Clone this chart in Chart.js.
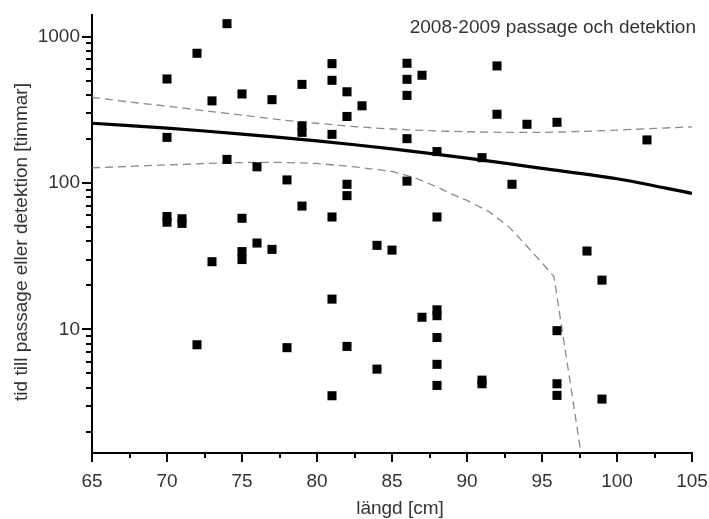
<!DOCTYPE html>
<html>
<head>
<meta charset="utf-8">
<script src="https://cdn.jsdelivr.net/npm/chart.js@4/dist/chart.umd.min.js"></script>
<style>
  html, body { margin: 0; padding: 0; background: #fff; }
  #wrap { width: 709px; height: 519px; }
</style>
</head>
<body>
<div id="wrap"><canvas id="c" width="709" height="519"></canvas></div>
<script>
// Fish length (cm) and time until passage or detection (hours), 2008-2009
const fishLength = [
  70, 70, 70, 70,
  71, 71,
  72, 72,
  73, 73,
  74, 74,
  75, 75, 75, 75,
  76, 76,
  77, 77,
  78, 78,
  79, 79, 79, 79,
  81, 81, 81, 81, 81, 81,
  82, 82, 82, 82, 82,
  83,
  84, 84,
  85,
  86, 86, 86, 86, 86,
  87, 87,
  88, 88, 88, 88, 88, 88, 88,
  91, 91, 91,
  92, 92,
  93,
  94,
  96, 96, 96, 96,
  98,
  99, 99,
  102
];
const hoursToEvent = [
  514, 205, 59, 54,
  57, 53,
  770, 7.85,
  364, 29,
  1227, 145,
  406, 57.4, 34, 30,
  129, 38.9,
  371, 35.2,
  105, 7.5,
  472, 246, 222, 69.6,
  654, 503, 215, 58.6, 16.1, 3.52,
  420, 285, 98, 82, 7.65,
  337,
  37.5, 5.35,
  34.8,
  658, 511, 397, 201, 103,
  545, 12.1,
  164, 58.6, 13.6, 12.4, 8.8, 5.77, 4.14,
  149, 4.5, 4.25,
  631, 295,
  98,
  252,
  260, 9.8, 4.25, 3.54,
  34.3,
  21.7, 3.34,
  197
];

// Fitted curve
const fitX = [65, 70, 75, 80, 85, 90, 95, 100, 105];
const fitY = [256, 237, 216, 194, 171, 148, 126, 107, 85];

// Upper confidence band
const upperX = [65, 67.5, 70, 72.5, 75, 77.5, 80, 82.5, 85, 87.5, 90, 92.5, 95, 97.5, 100, 102.5, 105];
const upperY = [385, 358, 335, 312, 291, 271, 256, 243, 234, 228, 224, 222, 222, 225, 230, 236, 242];

// Lower confidence band
const lowerX = [65, 67.5, 70, 72.5, 75, 77.5, 80, 82.5, 85, 86.5, 88, 89, 90, 91.5, 92.9, 94.1, 95, 95.8, 98];
const lowerY = [127, 130, 133, 136, 138, 138.5, 136, 129, 120, 109, 94, 84, 76, 63.5, 49, 36, 28.5, 22.9, 0.77];

// Axis ticks
const xTickValues = [65, 70, 75, 80, 85, 90, 95, 100, 105];
const yTickValues = [10, 100, 1000];

const chartTitle = '2008-2009 passage och detektion';
const xTitle = 'längd [cm]';
const yTitle = 'tid till passage eller detektion [timmar]';

const FONT = 'Liberation Sans, Arial, Helvetica, sans-serif';
const FONT_SIZE = 19;
const TEXT = '#333';

const zip = (xs, ys) => xs.map((x, i) => ({ x, y: ys[i] }));

// Tick marks (major and minor) plus free-standing texts
const decorations = {
  id: 'decorations',
  afterDraw(chart) {
    const { ctx, chartArea, scales } = chart;
    const xs = scales.x, ys = scales.y;
    ctx.save();
    ctx.strokeStyle = '#000';
    ctx.lineWidth = 2;
    ctx.lineCap = 'butt';
    // y ticks: 1..9 per decade
    for (let e = 0; e <= 3; e++) {
      for (let m = 1; m <= 9; m++) {
        const v = m * Math.pow(10, e);
        if (v < ys.min || v > ys.max) continue;
        const py = Math.round(ys.getPixelForValue(v));
        const len = m === 1 ? 10 : 6;
        ctx.beginPath();
        ctx.moveTo(chartArea.left - len, py);
        ctx.lineTo(chartArea.left, py);
        ctx.stroke();
      }
    }
    // x ticks every 2.5
    for (let v = xs.min; v <= xs.max + 1e-6; v += 2.5) {
      const px = Math.round(xs.getPixelForValue(v));
      const len = (v % 5 === 0) ? 9 : 5;
      ctx.beginPath();
      ctx.moveTo(px, chartArea.bottom);
      ctx.lineTo(px, chartArea.bottom + len);
      ctx.stroke();
    }
    // texts
    ctx.fillStyle = TEXT;
    ctx.font = FONT_SIZE + 'px ' + FONT;
    ctx.textAlign = 'right';
    ctx.textBaseline = 'alphabetic';
    ctx.fillText(chartTitle, 696, 33);
    ctx.textAlign = 'center';
    ctx.fillText(xTitle, 400, 514);
    ctx.translate(27, 242);
    ctx.rotate(-Math.PI / 2);
    ctx.fillText(yTitle, 0, 0);
    ctx.restore();
  }
};

new Chart(document.getElementById('c'), {
  type: 'scatter',
  data: {
    datasets: [
      {
        label: 'obs',
        data: zip(fishLength, hoursToEvent),
        pointStyle: 'rect',
        pointRadius: 6.4,
        pointHoverRadius: 6.4,
        backgroundColor: '#000',
        borderWidth: 0,
        showLine: false,
        order: 0
      },
      {
        label: 'fit',
        data: zip(fitX, fitY),
        showLine: true,
        borderColor: '#000',
        borderWidth: 3.2,
        pointRadius: 0,
        tension: 0.3,
        order: 1
      },
      {
        label: 'upper',
        data: zip(upperX, upperY),
        showLine: true,
        borderColor: '#8a8a8a',
        borderWidth: 1.3,
        borderDash: [8, 5],
        pointRadius: 0,
        tension: 0.3,
        order: 2
      },
      {
        label: 'lower',
        data: zip(lowerX, lowerY),
        showLine: true,
        borderColor: '#8a8a8a',
        borderWidth: 1.3,
        borderDash: [8, 5],
        pointRadius: 0,
        tension: 0,
        order: 2
      }
    ]
  },
  options: {
    responsive: false,
    animation: false,
    events: [],
    layout: { padding: { top: 15, right: 17, bottom: 0, left: 0 } },
    plugins: {
      legend: { display: false },
      tooltip: { enabled: false },
      title: { display: false }
    },
    scales: {
      x: {
        type: 'linear',
        min: 65,
        max: 105,
        afterBuildTicks: (s) => { s.ticks = xTickValues.map(v => ({ value: v })); },
        afterFit: (s) => { s.height = 66; s.paddingLeft = 0; s.paddingRight = 0; },
        ticks: { color: TEXT, font: { family: FONT, size: FONT_SIZE }, padding: 7, autoSkip: false, maxRotation: 0 },
        grid: { display: true, drawOnChartArea: false, drawTicks: true, tickLength: 10, color: 'rgba(0,0,0,0)' },
        border: { display: true, color: '#000', width: 2 }
      },
      y: {
        type: 'logarithmic',
        min: 1.43,
        max: 1406,
        afterBuildTicks: (s) => { s.ticks = yTickValues.map(v => ({ value: v })); },
        afterFit: (s) => { s.width = 92; s.paddingTop = 0; s.paddingBottom = 0; },
        ticks: {
          color: TEXT,
          font: { family: FONT, size: FONT_SIZE },
          padding: 2,
          autoSkip: false,
          callback: (v) => String(v)
        },
        grid: { display: true, drawOnChartArea: false, drawTicks: true, tickLength: 10, color: 'rgba(0,0,0,0)' },
        border: { display: true, color: '#000', width: 2 }
      }
    }
  },
  plugins: [decorations]
});
</script>
</body>
</html>
